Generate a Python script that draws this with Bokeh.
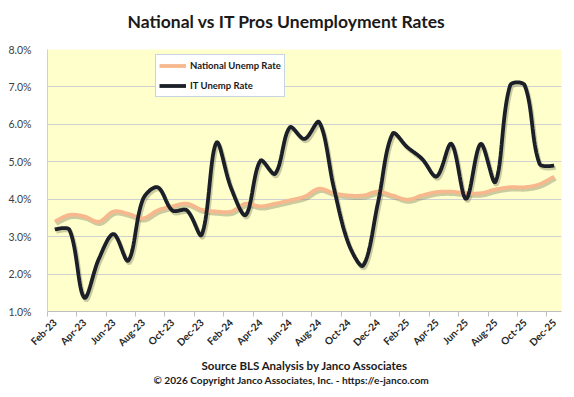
import numpy as np
from bokeh.plotting import figure
from bokeh.models import (Range1d, FixedTicker, Legend, LegendItem, Title,
                          NumeralTickFormatter)
from bokeh.embed import file_html
from bokeh.resources import INLINE

months = ["Feb-23", "Mar-23", "Apr-23", "May-23", "Jun-23", "Jul-23", "Aug-23",
          "Sep-23", "Oct-23", "Nov-23", "Dec-23",
          "Jan-24", "Feb-24", "Mar-24", "Apr-24", "May-24", "Jun-24", "Jul-24",
          "Aug-24", "Sep-24", "Oct-24", "Nov-24", "Dec-24",
          "Jan-25", "Feb-25", "Mar-25", "Apr-25", "May-25", "Jun-25", "Jul-25",
          "Aug-25", "Sep-25", "Oct-25", "Nov-25", "Dec-25"]

national = [3.40, 3.58, 3.54, 3.40, 3.67, 3.61, 3.49, 3.70, 3.81, 3.88, 3.72,
            3.67, 3.67, 3.88, 3.81, 3.88, 3.97, 4.07, 4.28, 4.16, 4.10, 4.10, 4.20,
            4.10, 3.99, 4.10, 4.19, 4.20, 4.16, 4.16, 4.26, 4.32, 4.32, 4.40, 4.61]

it_rate = [3.19, 3.18, 1.37, 2.41, 3.07, 2.36, 4.00, 4.32, 3.70, 3.70, 3.05,
           5.51, 4.30, 3.58, 5.03, 4.68, 5.92, 5.61, 6.06, 4.30, 2.81, 2.23, 3.90,
           5.75, 5.39, 5.08, 4.61, 5.48, 4.01, 5.48, 4.46, 7.04, 7.04, 4.95, 4.90]

y_ticks = [1, 2, 3, 4, 5, 6, 7, 8]

W, H = 574, 397
B_LEFT, B_RIGHT, B_TOP, B_BOTTOM = 47, 13, 49, 86
FRAME_W = W - B_LEFT - B_RIGHT
FRAME_H = H - B_TOP - B_BOTTOM


def smooth(xs, ys, n=20):
    """Excel-like smoothed path: cubic Bezier, tangents scaled by segment length
    (computed in screen space)."""
    sx = FRAME_W / len(xs)
    sy = FRAME_H / (y_ticks[-1] - y_ticks[0])
    X = np.asarray(xs, float) * sx
    Y = np.asarray(ys, float) * sy
    m = len(X)
    d = np.hypot(np.diff(X), np.diff(Y))
    cin, cout = [], []
    for i in range(m):
        if i == 0 or i == m - 1:
            cin.append((X[i], Y[i]))
            cout.append((X[i], Y[i]))
            continue
        tx, ty = X[i + 1] - X[i - 1], Y[i + 1] - Y[i - 1]
        a, b = d[i - 1], d[i]
        s = a + b
        cout.append((X[i] + tx * b / s / 3, Y[i] + ty * b / s / 3))
        cin.append((X[i] - tx * a / s / 3, Y[i] - ty * a / s / 3))
    t = np.linspace(0, 1, n, endpoint=False)
    b0, b1, b2, b3 = (1 - t) ** 3, 3 * (1 - t) ** 2 * t, 3 * (1 - t) * t ** 2, t ** 3
    ox, oy = [], []
    for i in range(m - 1):
        c1, c2 = cout[i], cin[i + 1]
        ox.extend(b0 * X[i] + b1 * c1[0] + b2 * c2[0] + b3 * X[i + 1])
        oy.extend(b0 * Y[i] + b1 * c1[1] + b2 * c2[1] + b3 * Y[i + 1])
    ox.append(X[-1])
    oy.append(Y[-1])
    return np.array(ox) / sx, np.array(oy) / sy


x_idx = list(range(len(months)))

p = figure(width=W, height=H, output_backend="svg", toolbar_location=None,
           title=None,
           x_range=Range1d(-0.5, len(months) - 0.5),
           y_range=Range1d(y_ticks[0], y_ticks[-1]),
           min_border_left=B_LEFT, min_border_right=B_RIGHT,
           min_border_top=B_TOP, min_border_bottom=B_BOTTOM)

p.background_fill_color = "#FFFFCC"
p.border_fill_color = "white"
p.outline_line_color = None

# title (a small blank spacer keeps it higher above the plot area)
spacer = Title(text=" ", text_font="Lato", text_font_size="9px", standoff=0)
main_title = Title(text="National vs IT Pros Unemployment Rates", align="left",
                   offset=80, text_font="Lato", text_font_size="17.5px",
                   text_font_style="bold", text_color="#1a1a1a")
p.add_layout(spacer, "above")
p.add_layout(main_title, "above")

# grid
p.xgrid.grid_line_color = None
p.ygrid.grid_line_color = "#D0D0D0"
p.ygrid.grid_line_width = 1

# y axis
p.yaxis.ticker = FixedTicker(ticks=y_ticks)
p.yaxis.formatter = NumeralTickFormatter(format="0.0")
p.yaxis.major_label_overrides = {v: f"{v:.1f}%" for v in y_ticks}
p.yaxis.axis_line_color = "#D0D0D0"
p.yaxis.major_tick_line_color = None
p.yaxis.minor_tick_line_color = None
p.yaxis.major_label_text_font = "Lato"
p.yaxis.major_label_text_font_size = "10.5px"
p.yaxis.major_label_text_color = "#404040"
p.yaxis.major_label_standoff = 10

# x axis: labels every other month at category centre, tick marks at boundaries
lab_idx = x_idx[::2]
p.xaxis.ticker = FixedTicker(ticks=lab_idx,
                             minor_ticks=[i - 0.5 for i in lab_idx])
p.xaxis.major_label_overrides = {i: months[i] for i in lab_idx}
p.xaxis.major_label_orientation = np.pi / 4
p.xaxis.axis_line_color = "#BFBFBF"
p.xaxis.major_tick_line_color = None
p.xaxis.minor_tick_line_color = "#BFBFBF"
p.xaxis.minor_tick_out = 5
p.xaxis.minor_tick_in = 0
p.xaxis.major_label_text_font = "Lato"
p.xaxis.major_label_text_font_size = "10px"
p.xaxis.major_label_text_font_style = "bold"
p.xaxis.major_label_text_color = "#262626"
p.xaxis.major_label_standoff = 3

nx, ny = smooth(x_idx, national)
ix, iy = smooth(x_idx, it_rate)

# soft drop shadows
sdx, sdy = 0.1, -0.06
p.line(nx + sdx, ny + sdy, line_color="#8C8C6A", line_alpha=0.45, line_width=4)
p.line(ix + sdx, iy + sdy, line_color="#8C8C6A", line_alpha=0.45, line_width=4)

r_nat = p.line(nx, ny, line_color="#F7B88E", line_width=3.8)
r_it = p.line(ix, iy, line_color="#1B1F28", line_width=3.8)

legend = Legend(items=[LegendItem(label="National Unemp Rate", renderers=[r_nat]),
                       LegendItem(label="IT Unemp Rate", renderers=[r_it])],
                location=(108, 214))
legend.background_fill_color = "white"
legend.background_fill_alpha = 1
legend.border_line_color = "#8EA9C8"
legend.border_line_width = 1
legend.label_text_font = "Lato"
legend.label_text_font_size = "9.5px"
legend.label_text_font_style = "bold"
legend.label_text_color = "#1a1a1a"
legend.glyph_width = 27
legend.glyph_height = 15
legend.label_height = 15
legend.label_standoff = 4
legend.spacing = 5
legend.padding = 3
legend.margin = 0
p.add_layout(legend, "center")

t1 = Title(text="Source BLS Analysis by Janco Associates", align="left",
           offset=154, standoff=3,
           text_font="Lato", text_font_size="11.5px", text_font_style="bold",
           text_color="#1a1a1a")
t2 = Title(text="\u00a9 2026 Copyright Janco Associates, Inc. - https://e-janco.com",
           align="left", offset=106, standoff=-4,
           text_font="Lato", text_font_size="10.15px",
           text_font_style="bold", text_color="#1a1a1a")
p.add_layout(t1, "below")
p.add_layout(t2, "below")

open("out.html", "w").write(file_html(p, INLINE))
